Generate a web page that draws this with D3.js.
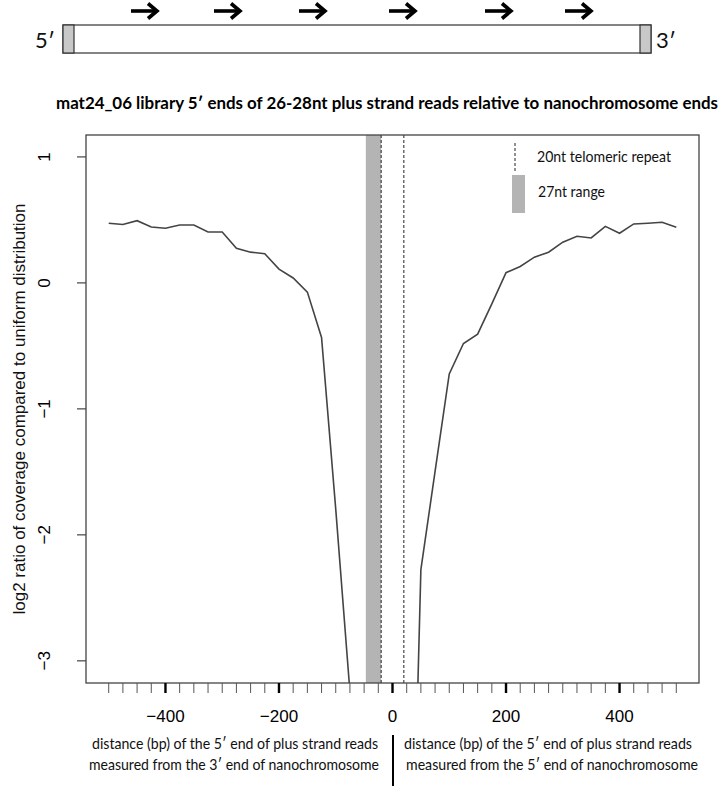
<!DOCTYPE html>
<html>
<head>
<meta charset="utf-8">
<script src="https://cdn.jsdelivr.net/npm/d3@7"></script>
<style>
  html, body { margin: 0; padding: 0; background: #fff; }
  svg { display: block; }
</style>
</head>
<body>
<svg id="chart" width="726" height="788"></svg>
<script>
// ---------------- data ----------------
const leftPositions = [-500,-475,-450,-425,-400,-375,-350,-325,-300,-275,-250,-225,-200,-175,-150,-125,-100,-75];
const leftValues    = [0.47,0.46,0.49,0.44,0.43,0.455,0.455,0.40,0.40,0.27,0.24,0.227,0.105,0.035,-0.077,-0.437,-1.8,-3.25];
const rightPositions = [25,50,75,100,125,150,175,200,225,250,275,300,325,350,375,400,425,450,475,500];
const rightValues    = [-6.6,-2.28,-1.5,-0.727,-0.485,-0.411,-0.17,0.077,0.126,0.2,0.24,0.319,0.366,0.353,0.445,0.39,0.464,0.47,0.477,0.437];
const xMajorTicks = [-400,-200,0,200,400];
const xMinorTicks = [-500,-475,-450,-425,-400,-375,-350,-325,-300,-275,-250,-225,-200,-175,-150,-125,-100,-75,-50,-25,0,25,50,75,100,125,150,175,200,225,250,275,300,325,350,375,400,425,450,475,500];
const yTicks = [-3,-2,-1,0,1];
const telomereRepeat = [-20, 20];
const readRange = [-47, -20];
const titleText = "mat24_06 library 5\u2032 ends of 26-28nt plus strand reads relative to nanochromosome ends";
const yTitle = "log2 ratio of coverage compared to uniform distribution";
const legendLabels = ["20nt telomeric repeat", "27nt range"];
const bottomLeft = ["distance (bp) of the 5\u2032 end of plus strand reads", "measured from the 3\u2032 end of nanochromosome"];
const bottomRight = ["distance (bp) of the 5\u2032 end of plus strand reads", "measured from the 5\u2032 end of nanochromosome"];

// ---------------- layout ----------------
const svg = d3.select("#chart");
const box = {left: 86, right: 699, top: 135, bottom: 683};
const x = d3.scaleLinear().domain([-540, 540]).range([box.left, box.right]);
const y = d3.scaleLinear().domain([-3.18, 1.17]).range([box.bottom, box.top]);
const calibri = "Lato, 'Open Sans', sans-serif";
const helv = "'Liberation Sans', Arial, sans-serif";

// ---------------- top diagram ----------------
const diag = svg.append("g");
diag.append("rect").attr("x", 63).attr("y", 25).attr("width", 588).attr("height", 28)
  .attr("fill", "#fff").attr("stroke", "#333").attr("stroke-width", 1.2);
diag.append("rect").attr("x", 63).attr("y", 25).attr("width", 11).attr("height", 28)
  .attr("fill", "#c8c8c8").attr("stroke", "#333").attr("stroke-width", 1.2);
diag.append("rect").attr("x", 640).attr("y", 25).attr("width", 11).attr("height", 28)
  .attr("fill", "#c8c8c8").attr("stroke", "#333").attr("stroke-width", 1.2);
diag.append("text").attr("x", 55).attr("y", 48).attr("text-anchor", "end")
  .attr("font-family", calibri).attr("font-size", 22).attr("fill", "#111").text("5\u2032");
diag.append("text").attr("x", 656).attr("y", 48).attr("text-anchor", "start")
  .attr("font-family", calibri).attr("font-size", 22).attr("fill", "#111").text("3\u2032");
const arrowX = [145, 228, 313, 403, 499, 579];
arrowX.forEach(cx => {
  const cy = 11;
  diag.append("path")
    .attr("d", `M${cx-14},${cy} L${cx+11},${cy}`)
    .attr("stroke", "#000").attr("stroke-width", 3.6).attr("fill", "none");
  diag.append("path")
    .attr("d", `M${cx+3},${cy-7.5} L${cx+12},${cy} L${cx+3},${cy+7.5}`)
    .attr("stroke", "#000").attr("stroke-width", 3.6).attr("fill", "none")
    .attr("stroke-linejoin", "miter");
});

// ---------------- title ----------------
svg.append("text").attr("x", 387).attr("y", 109).attr("text-anchor", "middle")
  .attr("font-family", calibri).attr("font-weight", "bold").attr("font-size", 17)
  .attr("textLength", 662).attr("lengthAdjust", "spacingAndGlyphs")
  .attr("fill", "#000").text(titleText);

// ---------------- plot ----------------
svg.append("defs").append("clipPath").attr("id", "plotclip")
  .append("rect").attr("x", box.left).attr("y", box.top)
  .attr("width", box.right - box.left).attr("height", box.bottom - box.top);

const plot = svg.append("g").attr("clip-path", "url(#plotclip)");
plot.append("rect")
  .attr("x", x(readRange[0])).attr("y", box.top)
  .attr("width", x(readRange[1]) - x(readRange[0])).attr("height", box.bottom - box.top)
  .attr("fill", "#b4b4b4");
plot.selectAll("line.tel").data(telomereRepeat).enter().append("line")
  .attr("x1", d => x(d)).attr("x2", d => x(d))
  .attr("y1", box.top).attr("y2", box.bottom)
  .attr("stroke", "#222").attr("stroke-width", 1).attr("stroke-dasharray", "3,2");

const line = d3.line().x(d => x(d[0])).y(d => y(d[1]));
plot.append("path").datum(d3.zip(leftPositions, leftValues))
  .attr("d", line).attr("fill", "none").attr("stroke", "#444").attr("stroke-width", 1.6);
plot.append("path").datum(d3.zip(rightPositions, rightValues))
  .attr("d", line).attr("fill", "none").attr("stroke", "#444").attr("stroke-width", 1.6);

svg.append("rect").attr("x", box.left).attr("y", box.top)
  .attr("width", box.right - box.left).attr("height", box.bottom - box.top)
  .attr("fill", "none").attr("stroke", "#444").attr("stroke-width", 1.3);

// x axis ticks
const xt = svg.append("g");
xt.selectAll("line.minor").data(xMinorTicks.filter(d => !xMajorTicks.includes(d))).enter().append("line")
  .attr("x1", d => x(d)).attr("x2", d => x(d)).attr("y1", box.bottom).attr("y2", box.bottom + 10)
  .attr("stroke", "#555").attr("stroke-width", 1);
xt.selectAll("line.major").data(xMajorTicks).enter().append("line")
  .attr("x1", d => x(d)).attr("x2", d => x(d)).attr("y1", box.bottom).attr("y2", box.bottom + 10)
  .attr("stroke", "#000").attr("stroke-width", 2.4);
const fmt = d3.format("d");
xt.selectAll("text").data(xMajorTicks).enter().append("text")
  .attr("x", d => x(d)).attr("y", 722).attr("text-anchor", "middle")
  .attr("font-family", helv).attr("font-size", 17).attr("fill", "#000")
  .text(d => fmt(d));

// y axis
const yAxis = d3.axisLeft(y).tickValues(yTicks).tickSize(9).tickFormat(d3.format("d"));
const ya = svg.append("g").attr("transform", `translate(${box.left},0)`).call(yAxis);
ya.select(".domain").remove();
ya.selectAll(".tick line").attr("stroke", "#444").attr("stroke-width", 1.2);
ya.selectAll(".tick text")
  .attr("font-family", helv).attr("font-size", 17).attr("fill", "#000")
  .attr("x", null).attr("dy", null)
  .attr("transform", "translate(-36,0) rotate(-90)")
  .attr("text-anchor", "middle").attr("dominant-baseline", "auto")
  .attr("y", 0);

svg.append("text").attr("transform", `translate(25,${(box.top + box.bottom) / 2}) rotate(-90)`)
  .attr("text-anchor", "middle").attr("font-family", helv).attr("font-size", 17)
  .attr("fill", "#111").text(yTitle);

// legend
const lg = svg.append("g");
lg.append("line").attr("x1", 515).attr("x2", 515).attr("y1", 143).attr("y2", 173)
  .attr("stroke", "#222").attr("stroke-width", 1).attr("stroke-dasharray", "3,2");
lg.append("rect").attr("x", 512).attr("y", 175).attr("width", 13).attr("height", 38).attr("fill", "#b4b4b4");
lg.append("text").attr("x", 537).attr("y", 162).attr("font-family", calibri).attr("font-size", 16)
  .attr("textLength", 134).attr("lengthAdjust", "spacingAndGlyphs").attr("fill", "#111").text(legendLabels[0]);
lg.append("text").attr("x", 538).attr("y", 197).attr("font-family", calibri).attr("font-size", 16)
  .attr("textLength", 67).attr("lengthAdjust", "spacingAndGlyphs").attr("fill", "#111").text(legendLabels[1]);

// bottom annotations
const bt = svg.append("g").attr("font-family", calibri).attr("font-size", 15).attr("fill", "#111");
bt.append("text").attr("x", 235).attr("y", 749).attr("text-anchor", "middle")
  .attr("textLength", 286).attr("lengthAdjust", "spacingAndGlyphs").text(bottomLeft[0]);
bt.append("text").attr("x", 234).attr("y", 770).attr("text-anchor", "middle")
  .attr("textLength", 290).attr("lengthAdjust", "spacingAndGlyphs").text(bottomLeft[1]);
bt.append("text").attr("x", 548).attr("y", 749).attr("text-anchor", "middle")
  .attr("textLength", 288).attr("lengthAdjust", "spacingAndGlyphs").text(bottomRight[0]);
bt.append("text").attr("x", 552).attr("y", 770).attr("text-anchor", "middle")
  .attr("textLength", 292).attr("lengthAdjust", "spacingAndGlyphs").text(bottomRight[1]);
svg.append("line").attr("x1", 393).attr("x2", 393).attr("y1", 735).attr("y2", 786)
  .attr("stroke", "#000").attr("stroke-width", 2);
</script>
</body>
</html>
